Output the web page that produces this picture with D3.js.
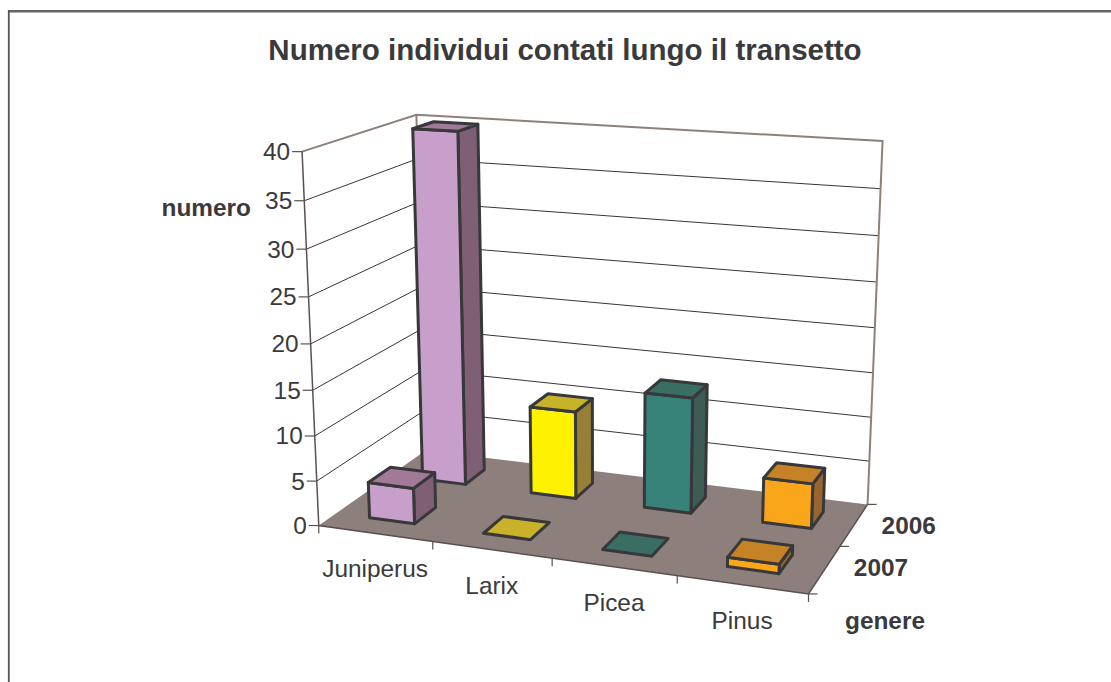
<!DOCTYPE html>
<html>
<head>
<meta charset="utf-8">
<script src="https://cdn.jsdelivr.net/npm/d3@7"></script>
<style>
    html, body { margin: 0; padding: 0; background: #fff; }
    svg { display: block; }
    text { font-family: "Liberation Sans", Arial, sans-serif; fill: #3a3a3c; }
</style>
</head>
<body>
<div id="chart"></div>
<script>
var categories = ['Juniperus', 'Larix', 'Picea', 'Pinus'];
var years = ['2007', '2006'];
var values2006 = [40, 10, 13, 5];
var values2007 = [4, 0, 0, 1];
var valueTicks = [0, 5, 10, 15, 20, 25, 30, 35, 40];

var front = ['#C89FCA', '#FFF200', '#37837A', '#FAA61A'];
var side = ['#7F5F74', '#967F36', '#3C5C55', '#99652F'];
var top_ = ['#A27A97', '#C7B22A', '#396E63', '#C58226'];

var width = 1111, height = 682;

// corners of the plot box on screen: [across, deep, up, screenX, screenY]
var anchors = [
    [0, 0, 0, 318, 525], [0, 0, 0, 318, 525], [1, 0, 0, 809, 593], [1, 1, 0, 868, 503], [0, 1, 0, 427, 451],
    [0, 0, 1, 303, 152], [1, 1, 1, 883, 141], [0, 1, 1, 415, 115],
    [0.25, 0, 0, 433, 542], [0.5, 0, 0, 552, 559], [0.75, 0, 0, 678, 576],
    [0, 0, 0.5, 311, 343], [1, 0.5, 0, 838, 548]
];

function solve(A, b) {
    var n = b.length;
    for (var i = 0; i < n; i++) {
        var p = i;
        for (var r = i + 1; r < n; r++) if (Math.abs(A[r][i]) > Math.abs(A[p][i])) p = r;
        var t = A[i]; A[i] = A[p]; A[p] = t;
        t = b[i]; b[i] = b[p]; b[p] = t;
        for (r = i + 1; r < n; r++) {
            var f = A[r][i] / A[i][i];
            for (var c = i; c < n; c++) A[r][c] -= f * A[i][c];
            b[r] -= f * b[i];
        }
    }
    var x = [];
    for (i = n - 1; i >= 0; i--) {
        var s = b[i];
        for (c = i + 1; c < n; c++) s -= A[i][c] * x[c];
        x[i] = s / A[i][i];
    }
    return x;
}

// least squares fit of the 3d -> 2d homography
function fitCamera(pts) {
    var rows = [], rhs = [];
    pts.forEach(function (p) {
        var X = p[3] / 1000, Y = p[4] / 1000;
        rows.push([p[0], p[1], p[2], 1, 0, 0, 0, 0, -X * p[0], -X * p[1], -X * p[2]]); rhs.push(X);
        rows.push([0, 0, 0, 0, p[0], p[1], p[2], 1, -Y * p[0], -Y * p[1], -Y * p[2]]); rhs.push(Y);
    });
    var ata = d3.range(11).map(function (i) {
        return d3.range(11).map(function (j) {
            return d3.sum(rows, function (r) { return r[i] * r[j]; });
        });
    });
    var atb = d3.range(11).map(function (i) {
        return d3.sum(rows, function (r, k) { return r[i] * rhs[k]; });
    });
    return solve(ata, atb);
}

var cam = fitCamera(anchors);

function project(u, v, h) {
    var w = cam[8] * u + cam[9] * v + cam[10] * h + 1;
    return [
        1000 * (cam[0] * u + cam[1] * v + cam[2] * h + cam[3]) / w,
        1000 * (cam[4] * u + cam[5] * v + cam[6] * h + cam[7]) / w
    ];
}

var x = d3.scaleBand().domain(categories).range([0, 1]).paddingInner(0.6).paddingOuter(0.3);
var z = d3.scaleBand().domain(years).range([0, 1]).paddingInner(0.6).paddingOuter(0.3);
var y = d3.scaleLinear().domain([0, 40]).range([0, 1]);
var xEdge = d3.scaleLinear().domain([0, categories.length]).range([0, 1]);
var zEdge = d3.scaleLinear().domain([0, years.length]).range([0, 1]);

var line = d3.line();

var svg = d3.select('#chart').append('svg')
    .attr('width', width)
    .attr('height', height);

// chart frame
svg.append('line')
    .attr('x1', 8).attr('y1', 11.2).attr('x2', width).attr('y2', 11.2)
    .attr('stroke', '#666').attr('stroke-width', 2.6);
svg.append('line')
    .attr('x1', 8.8).attr('y1', 10).attr('x2', 8.8).attr('y2', height)
    .attr('stroke', '#555').attr('stroke-width', 1.8);

svg.append('text')
    .attr('x', 565).attr('y', 60)
    .attr('text-anchor', 'middle')
    .attr('font-size', 29.5).attr('font-weight', 'bold')
    .text('Numero individui contati lungo il transetto');

// floor
svg.append('path')
    .attr('d', line([project(0, 0, 0), project(1, 0, 0), project(1, 1, 0), project(0, 1, 0)]) + 'Z')
    .attr('fill', '#8D7F7B');

// gridlines on both walls
var grid = svg.append('g');
valueTicks.slice(1, -1).forEach(function (d) {
    grid.append('path')
        .attr('d', line([project(0, 0, y(d)), project(0, 1, y(d)), project(1, 1, y(d))]))
        .attr('fill', 'none')
        .attr('stroke', '#3a3535')
        .attr('stroke-width', 1);
});

// top outline and back verticals
svg.append('path')
    .attr('d', line([project(0, 0, 1), project(0, 1, 1), project(1, 1, 1), project(1, 1, 0)]))
    .attr('fill', 'none').attr('stroke', '#8F807C').attr('stroke-width', 2);
svg.append('path')
    .attr('d', line([project(0, 1, 1), project(0, 1, 0)]))
    .attr('fill', 'none').attr('stroke', '#8F807C').attr('stroke-width', 2);

// axis lines
var axisColor = '#5a5050';
svg.append('path')
    .attr('d', line([project(0, 0, 1), project(0, 0, 0), project(1, 0, 0), project(1, 1, 0)]))
    .attr('fill', 'none').attr('stroke', axisColor).attr('stroke-width', 1.5);

valueTicks.forEach(function (d) {
    var p = project(0, 0, y(d));
    svg.append('line')
        .attr('x1', p[0] - 10).attr('y1', p[1])
        .attr('x2', p[0]).attr('y2', p[1])
        .attr('stroke', axisColor).attr('stroke-width', 1.2);
    svg.append('text')
        .attr('x', p[0] - 12).attr('y', p[1] + 8.5)
        .attr('text-anchor', 'end')
        .attr('font-size', 24.4)
        .text(d);
});

d3.range(categories.length + 1).forEach(function (i) {
    var p = project(xEdge(i), 0, 0);
    svg.append('line')
        .attr('x1', p[0]).attr('y1', p[1])
        .attr('x2', p[0]).attr('y2', p[1] + 8)
        .attr('stroke', axisColor).attr('stroke-width', 1.2);
});

categories.forEach(function (d, i) {
    var p = project(xEdge(i + 0.5), 0, 0);
    svg.append('text')
        .attr('x', p[0]).attr('y', p[1] + 44)
        .attr('text-anchor', 'middle')
        .attr('font-size', 24.4)
        .text(d);
});

d3.range(years.length + 1).forEach(function (i) {
    var p = project(1, zEdge(i), 0);
    svg.append('line')
        .attr('x1', p[0]).attr('y1', p[1])
        .attr('x2', p[0] + 9).attr('y2', p[1])
        .attr('stroke', axisColor).attr('stroke-width', 1.2);
});

years.forEach(function (d, i) {
    var p = project(1, zEdge(i + 1), 0);
    svg.append('text')
        .attr('x', p[0] + 14).attr('y', p[1] + 30)
        .attr('font-size', 24.4).attr('font-weight', 'bold')
        .text(d);
});

svg.append('text')
    .attr('x', 251).attr('y', 216)
    .attr('text-anchor', 'end')
    .attr('font-size', 24.4).attr('font-weight', 'bold')
    .text('numero');
svg.append('text')
    .attr('x', 845).attr('y', 629)
    .attr('font-size', 24.4).attr('font-weight', 'bold')
    .text('genere');

// bars, back row first
function drawBar(cat, year, val, i) {
    var u0 = x(cat), u1 = u0 + x.bandwidth();
    var v0 = z(year), v1 = v0 + z.bandwidth();
    var h = y(val);
    var g = svg.append('g')
        .attr('stroke', '#38383a')
        .attr('stroke-width', 3)
        .attr('stroke-linejoin', 'round');
    if (val > 0) {
        g.append('path')
            .attr('d', line([project(u1, v0, 0), project(u1, v1, 0), project(u1, v1, h), project(u1, v0, h)]) + 'Z')
            .attr('fill', side[i]);
        g.append('path')
            .attr('d', line([project(u0, v0, 0), project(u1, v0, 0), project(u1, v0, h), project(u0, v0, h)]) + 'Z')
            .attr('fill', front[i]);
    }
    g.append('path')
        .attr('d', line([project(u0, v0, h), project(u1, v0, h), project(u1, v1, h), project(u0, v1, h)]) + 'Z')
        .attr('fill', top_[i]);
}

categories.forEach(function (d, i) { drawBar(d, '2006', values2006[i], i); });
categories.forEach(function (d, i) { drawBar(d, '2007', values2007[i], i); });
</script>
</body>
</html>
